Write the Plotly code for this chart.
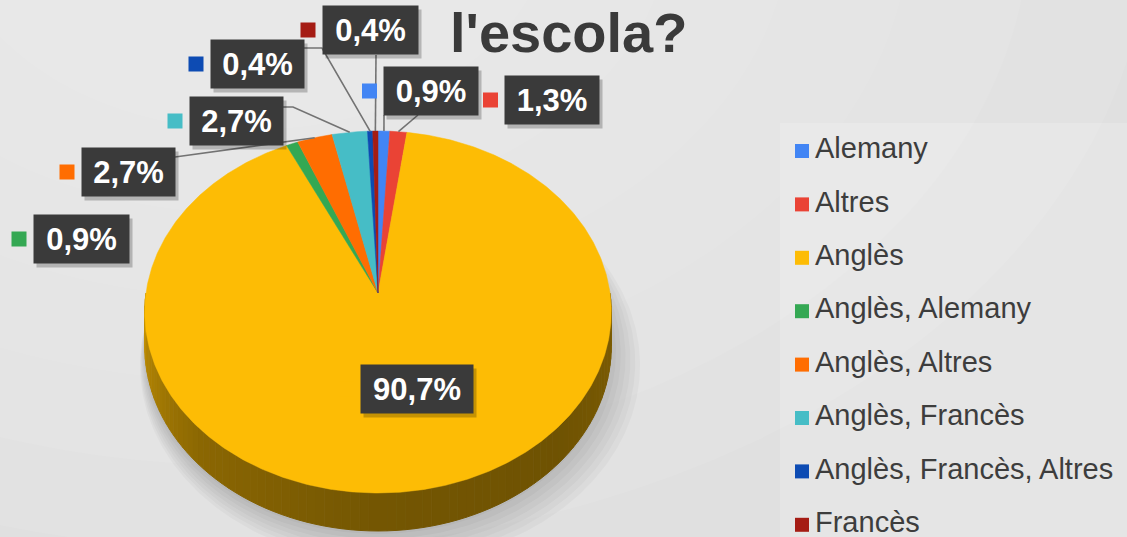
import numpy as np
import plotly.graph_objects as go

# ---------------- data ----------------
categories = ["Alemany", "Altres", "Anglès", "Anglès, Alemany", "Anglès, Altres",
              "Anglès, Francès", "Anglès, Francès, Altres", "Francès"]
percentages = [0.9, 1.3, 90.7, 0.9, 2.7, 2.7, 0.4, 0.4]
label_texts = ["0,9%", "1,3%", "90,7%", "0,9%", "2,7%", "2,7%", "0,4%", "0,4%"]
colors = ["#4285F4", "#EA4335", "#FDBC05", "#34A853", "#FF6D01",
          "#46BDC6", "#0D4BB3", "#A51C14"]
title_text = "l'escola?"

# ---------------- layout / geometry (pixel space) ----------------
W, H = 1127, 537
CX, CY = 378, 293          # pie apex
RX, RY = 232, 179
PERSP = 0.105
DEPTH = 34
FONT = "Liberation Sans, Arial, sans-serif"

# label box placement (centre, width) and leader anchor points
label_layout = {
    "Alemany": dict(box=(431, 91), w=94, leader=[(384, 115)]),
    "Altres": dict(box=(552, 100), w=94, leader=[(418, 115)]),
    "Anglès": dict(box=(417, 389), w=112, leader=None),
    "Anglès, Alemany": dict(box=(81, 239), w=95, leader=None),
    "Anglès, Altres": dict(box=(128, 172), w=93, leader=[(175, 157)]),
    "Anglès, Francès": dict(box=(236, 121), w=93, leader=[(282, 107), (293, 107)]),
    "Anglès, Francès, Altres": dict(box=(257, 64), w=93, leader=[(303, 48), (322, 48)]),
    "Francès": dict(box=(370, 30), w=95, leader=[(376, 55)]),
}
BOX_H = 48
LEG_X, LEG_Y0, LEG_DY = 802, 151, 53.4


def proj(theta_deg, drop=0.0):
    t = np.radians(theta_deg)
    w = 1.0 / (1.0 + PERSP * np.cos(t))
    x = CX + RX * np.sin(t) * w
    y = CY - RY * np.cos(t) * w + drop * w
    return x, y


def shade(hexcol, f):
    h = hexcol.lstrip("#")
    r, g, b = (int(h[i:i + 2], 16) for i in (0, 2, 4))
    return "rgb(%d,%d,%d)" % (r * f, g * f, b * f)


def side_factor(theta):
    return float(np.interp(theta, [90, 135, 180, 225, 255, 270],
                           [0.50, 0.44, 0.46, 0.55, 0.70, 0.80]))


vals = np.array(percentages, dtype=float)
cum = np.concatenate([[0], np.cumsum(vals)]) / vals.sum() * 360.0

fig = go.Figure()

# soft shadow under the pie
full = np.linspace(0, 360, 361)
for k in range(7):
    sx, sy = proj(full, DEPTH)
    s = 1.0 + 0.012 * k
    fig.add_trace(go.Scatter(
        x=CX + (sx - CX) * s + 2 * k, y=CY + (sy - CY) * s + 3 + 2 * k,
        mode="lines", fill="toself", line=dict(width=0),
        fillcolor="rgba(0,0,0,0.028)", hoverinfo="skip", showlegend=False))

# side walls (front half only)
for i, col in enumerate(colors):
    a, b = max(cum[i], 90.0), min(cum[i + 1], 270.0)
    if b <= a:
        continue
    edges = np.linspace(a, b, int(np.ceil((b - a) / 2.0)) + 1)
    for t1, t2 in zip(edges[:-1], edges[1:]):
        ts = np.linspace(t1, t2, 6)
        tx, ty = proj(ts)
        bx, by = proj(ts[::-1], DEPTH)
        c = shade(col, side_factor((t1 + t2) / 2))
        fig.add_trace(go.Scatter(
            x=np.concatenate([tx, bx]), y=np.concatenate([ty, by]),
            mode="lines", fill="toself", line=dict(width=1, color=c),
            fillcolor=c, hoverinfo="skip", showlegend=False))

# top faces
for i, (cat, col) in enumerate(zip(categories, colors)):
    a, b = cum[i], cum[i + 1]
    ts = np.linspace(a, b, max(3, int((b - a) / 0.5) + 2))
    ax, ay = proj(ts)
    fig.add_trace(go.Scatter(
        x=np.concatenate([[CX], ax, [CX]]), y=np.concatenate([[CY], ay, [CY]]),
        mode="lines", fill="toself", line=dict(width=0.5, color=col),
        fillcolor=col, name=cat, hoverinfo="name", showlegend=False))

# leader lines
for i, cat in enumerate(categories):
    lead = label_layout[cat]["leader"]
    if not lead:
        continue
    ex, ey = proj((cum[i] + cum[i + 1]) / 2)
    xs = [p[0] for p in lead] + [ex]
    ys = [p[1] for p in lead] + [ey]
    fig.add_trace(go.Scatter(x=xs, y=ys, mode="lines",
                             line=dict(color="#737373", width=1.6),
                             hoverinfo="skip", showlegend=False))

# coloured squares beside the data labels
mx = [label_layout[c]["box"][0] - label_layout[c]["w"] / 2 - 14.5 for c in categories]
my = [label_layout[c]["box"][1] for c in categories]
fig.add_trace(go.Scatter(x=mx, y=my, mode="markers",
                         marker=dict(symbol="square", size=15, color=colors,
                                     line=dict(width=0)),
                         hoverinfo="skip", showlegend=False))

# legend (custom)
ly = [LEG_Y0 + i * LEG_DY for i in range(len(categories))]
fig.add_trace(go.Scatter(x=[LEG_X] * len(categories), y=ly, mode="markers",
                         marker=dict(symbol="square", size=14, color=colors,
                                     line=dict(width=0)),
                         hoverinfo="skip", showlegend=False))
fig.add_trace(go.Scatter(x=[LEG_X + 13] * len(categories), y=ly, mode="text",
                         text=categories, textposition="middle right",
                         textfont=dict(family=FONT, size=29, color="#3d3d3d"),
                         hoverinfo="skip", showlegend=False))

annotations = []
for cat, txt in zip(categories, label_texts):
    L = label_layout[cat]
    bx, by = L["box"]
    annotations.append(dict(x=bx, y=by, xref="x", yref="y", text=" ", showarrow=False,
                            width=L["w"], height=BOX_H, bgcolor="rgba(0,0,0,0.22)",
                            borderpad=0, xshift=3, yshift=-4))
    annotations.append(dict(x=bx, y=by, xref="x", yref="y", text="<b>%s</b>" % txt,
                            showarrow=False, width=L["w"], height=BOX_H,
                            bgcolor="#3a3a3a", borderpad=0, align="center",
                            valign="middle",
                            font=dict(family=FONT, size=31, color="white")))

annotations.append(dict(x=449, y=32, xref="x", yref="y", xanchor="left",
                        yanchor="middle", text="<b>%s</b>" % title_text,
                        showarrow=False, borderpad=0,
                        font=dict(family=FONT, size=56, color="#3a3a3a")))

# subtle background lighting (decoration only)
bg_shapes = []
for k in range(6):
    r = 900 - 120 * k
    bg_shapes.append(dict(type="circle", xref="x", yref="y",
                          x0=250 - r, x1=250 + r, y0=-80 - r * 0.7, y1=-80 + r * 0.7,
                          fillcolor="rgba(255,255,255,0.07)", line=dict(width=0),
                          layer="below"))
bg_shapes.append(dict(type="rect", xref="x", yref="y", x0=780, x1=W, y0=123, y1=H,
                      fillcolor="rgba(255,255,255,0.18)", line=dict(width=0),
                      layer="below"))

fig.update_layout(
    width=W, height=H, autosize=False,
    margin=dict(l=0, r=0, t=0, b=0, pad=0),
    paper_bgcolor="#e0e0e0", plot_bgcolor="rgba(0,0,0,0)",
    xaxis=dict(range=[0, W], visible=False, fixedrange=True, domain=[0, 1]),
    yaxis=dict(range=[H, 0], visible=False, fixedrange=True, domain=[0, 1]),
    showlegend=False,
    annotations=annotations,
    shapes=bg_shapes,
)

fig.write_html("out.html")
